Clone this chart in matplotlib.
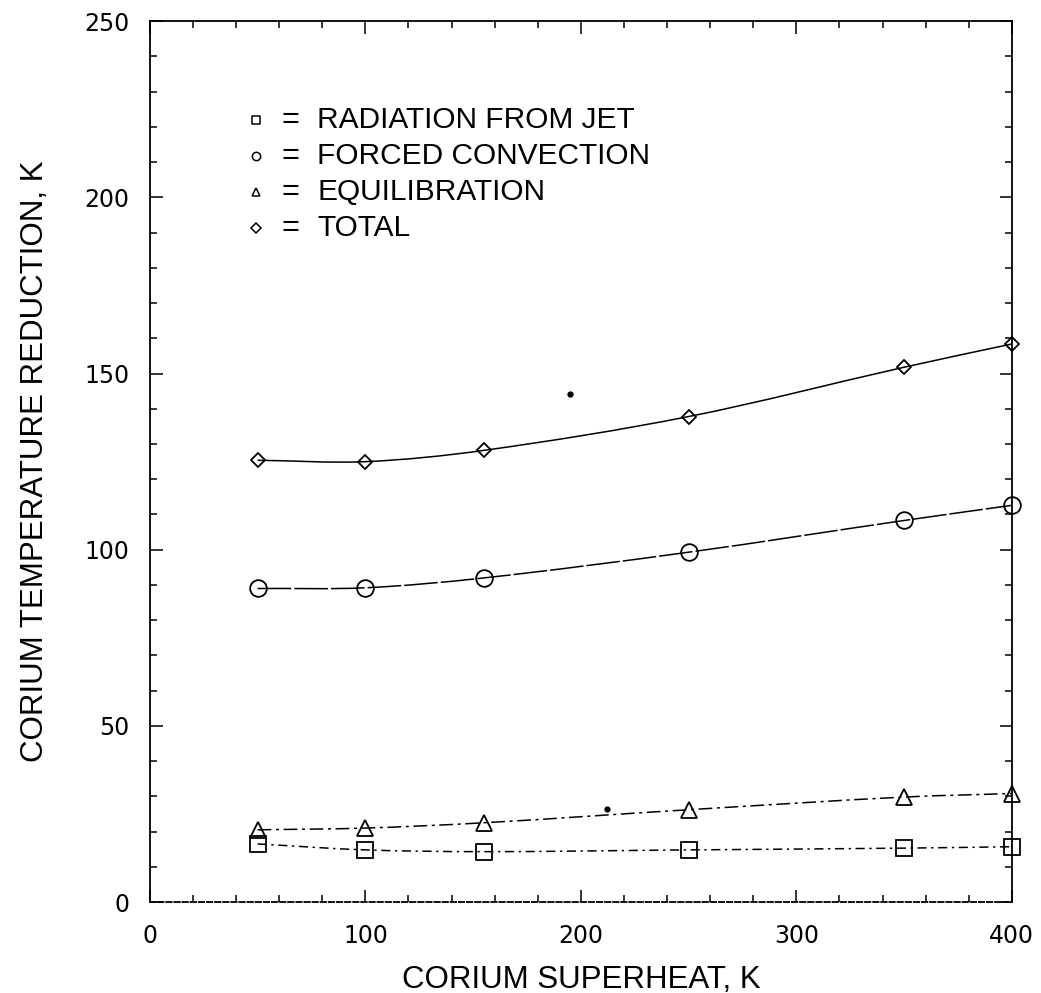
import numpy as np
import matplotlib
matplotlib.use("Agg")
import matplotlib.pyplot as plt
from matplotlib.path import Path
from matplotlib.patches import PathPatch
from matplotlib.ticker import MultipleLocator

plt.rcParams['font.family'] = ['Liberation Sans', 'DejaVu Sans']

# Corium superheat (K) at which each contribution was evaluated
superheat = [50, 100, 155, 250, 350, 400]

# Temperature reduction (K) for each mechanism
radiation = [16.5, 14.8, 14.3, 14.8, 15.3, 15.7]
forced_convection = [89.0, 89.2, 92.0, 99.3, 108.3, 112.6]
equilibration = [20.5, 21.0, 22.5, 26.2, 29.8, 30.8]
total = [125.4, 125.0, 128.2, 137.8, 151.8, 158.4]

series_names = ["RADIATION FROM JET", "FORCED CONVECTION", "EQUILIBRATION", "TOTAL"]
series_markers = ["s", "o", "^", "D"]

# isolated specks on the original sheet
specks_x = [195, 212]
specks_y = [144.3, 26.5]

x_ticks = [0, 100, 200, 300, 400]
y_ticks = [0, 50, 100, 150, 200, 250]


def smooth_path(xs, ys):
    """Cubic Hermite curve through the points, expressed as Bezier segments."""
    xs = np.asarray(xs, float)
    ys = np.asarray(ys, float)
    n = len(xs)
    m = np.empty(n)
    m[0] = (ys[1] - ys[0]) / (xs[1] - xs[0])
    m[-1] = (ys[-1] - ys[-2]) / (xs[-1] - xs[-2])
    for i in range(1, n - 1):
        m[i] = (ys[i + 1] - ys[i - 1]) / (xs[i + 1] - xs[i - 1])
    verts = [(xs[0], ys[0])]
    codes = [Path.MOVETO]
    for i in range(n - 1):
        h = xs[i + 1] - xs[i]
        verts += [(xs[i] + h / 3, ys[i] + m[i] * h / 3),
                  (xs[i + 1] - h / 3, ys[i + 1] - m[i + 1] * h / 3),
                  (xs[i + 1], ys[i + 1])]
        codes += [Path.CURVE4] * 3
    return Path(verts, codes)


fig = plt.figure(figsize=(10.41, 9.93), dpi=100)
ax = fig.add_axes([0.144, 0.0916, 0.828, 0.887])

data = [radiation, forced_convection, equilibration, total]
styles = [(0, (6, 3, 1.5, 3)), (0, (22, 2)), (0, (9, 3, 2, 3)), '-']
sizes = [11, 12, 11, 7]

for vals, mk, ls, ms in zip(data, series_markers, styles, sizes):
    patch = PathPatch(smooth_path(superheat, vals), facecolor='none',
                      edgecolor='black', lw=1.1, linestyle=ls,
                      transform=ax.transData)
    ax.add_patch(patch)
    ax.plot(superheat, vals, linestyle='none', marker=mk, markersize=ms,
            markerfacecolor='none', markeredgecolor='black',
            markeredgewidth=1.3, clip_on=False)

ax.plot(specks_x, specks_y, linestyle='none', marker='o', markersize=3.5,
        color='black')

# hand-lettered key in the upper left
key_y = [0.888, 0.847, 0.806, 0.765]
for name, mk, yy in zip(series_names, series_markers, key_y):
    ax.plot([0.123], [yy], transform=ax.transAxes, marker=mk,
            markersize=6 if mk != 'D' else 5, markerfacecolor='none',
            markeredgecolor='black', markeredgewidth=1.1, clip_on=False)
    ax.text(0.153, yy, "=", transform=ax.transAxes, fontsize=22,
            va='center', ha='left')
    ax.text(0.194, yy, name, transform=ax.transAxes, fontsize=21.5,
            va='center', ha='left')

ax.set_xlim(0, 400)
ax.set_ylim(0, 250)
ax.set_xticks(x_ticks)
ax.set_yticks(y_ticks)
ax.xaxis.set_minor_locator(MultipleLocator(20))
ax.yaxis.set_minor_locator(MultipleLocator(10))
ax.tick_params(which='both', direction='in', top=True, right=True, width=1.1)
ax.tick_params(which='major', length=9)
ax.tick_params(which='minor', length=5)
ax.tick_params(axis='x', which='major', pad=16)
ax.tick_params(axis='y', which='major', pad=15)
for lab in ax.get_xticklabels() + ax.get_yticklabels():
    lab.set_family('DejaVu Sans')
    lab.set_fontsize(17)

for side in ['left', 'right', 'top', 'bottom']:
    ax.spines[side].set_linewidth(1.3)
ax.spines['bottom'].set_linestyle((0, (3, 1.5)))

ax.set_xlabel("CORIUM SUPERHEAT, K", fontsize=22.5, labelpad=12)
ax.set_ylabel("CORIUM TEMPERATURE REDUCTION, K", fontsize=22.5, labelpad=24)

fig.savefig("out.png", dpi=100)
